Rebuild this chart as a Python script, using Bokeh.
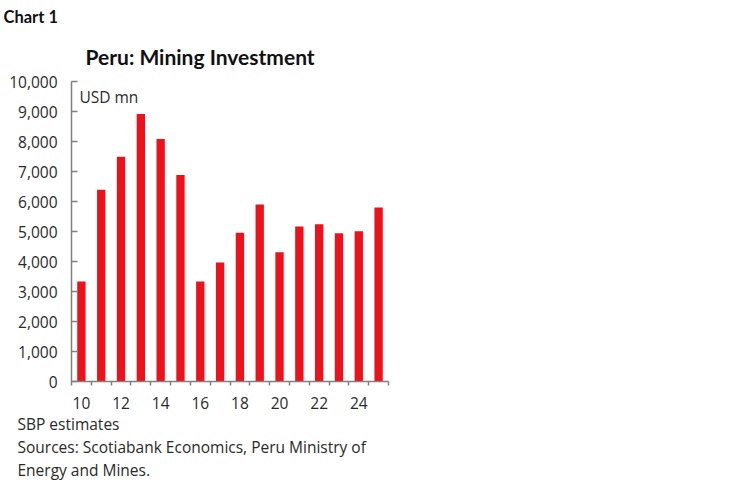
from bokeh.plotting import figure
from bokeh.models import Range1d, FixedTicker, NumeralTickFormatter, CustomJSTickFormatter, Title
from bokeh.embed import file_html
from bokeh.resources import INLINE

# Peru mining investment, USD mn (2025 = SBP estimate)
years = [2010, 2011, 2012, 2013, 2014, 2015, 2016, 2017,
         2018, 2019, 2020, 2021, 2022, 2023, 2024, 2025]
investment = [3330, 6390, 7490, 8920, 8080, 6880, 3330, 3970,
              4960, 5900, 4310, 5170, 5240, 4940, 5010, 5800]
y_ticks = list(range(0, 10001, 1000))
x_label_years = [2010, 2012, 2014, 2016, 2018, 2020, 2022, 2024]
notes = ["SBP estimates",
         "Sources: Scotiabank Economics, Peru Ministry of",
         "Energy and Mines."]

RED = "#EC111A"
AXIS = "#808080"
TEXT = "#2a2a2a"
FONT = "Open Sans"
HEAD_FONT = "Lato"
BODY = "15.5px"

p = figure(width=740, height=481, output_backend="svg", toolbar_location=None,
           x_range=Range1d(years[0] - 0.5, years[-1] + 0.5),
           y_range=Range1d(0, 10000),
           min_border_left=71, min_border_right=352,
           min_border_top=81, min_border_bottom=98)
p.outline_line_color = None
p.grid.grid_line_color = None
p.background_fill_color = "white"

p.vbar(x=years, top=investment, width=0.42, fill_color=RED, line_color=None)

# y axis: ticks point into the plot
p.yaxis.ticker = FixedTicker(ticks=y_ticks)
p.yaxis.formatter = NumeralTickFormatter(format="0,0")
p.yaxis.major_tick_in = 6
p.yaxis.major_tick_out = 0
p.yaxis.minor_tick_line_color = None
p.yaxis.major_label_standoff = 14

# x axis: tick marks between bars, labels every other year
p.xaxis.ticker = FixedTicker(ticks=x_label_years,
                             minor_ticks=[y - 0.5 for y in years] + [years[-1] + 0.5])
p.xaxis.formatter = CustomJSTickFormatter(code="return String(tick % 100);")
p.xaxis.major_tick_in = 0
p.xaxis.major_tick_out = 0
p.xaxis.minor_tick_in = 0
p.xaxis.minor_tick_out = 4
p.xaxis.major_label_standoff = 11

for ax in (p.xaxis, p.yaxis):
    ax.axis_line_color = AXIS
    ax.axis_line_width = 1.5
    ax.major_tick_line_color = AXIS
    ax.minor_tick_line_color = AXIS
    ax.major_tick_line_width = 1.5
    ax.minor_tick_line_width = 1.5
    ax.major_label_text_font = FONT
    ax.major_label_text_font_size = BODY
    ax.major_label_text_color = TEXT


def heading(text, where, offset, size=BODY, style="normal", standoff=0, font=FONT,
            line_height=1.0):
    p.add_layout(Title(text=text, align="left", offset=offset, standoff=standoff,
                       text_font=font, text_font_size=size, text_font_style=style,
                       text_line_height=line_height,
                       text_color="#111111" if style == "bold" else TEXT), where)


# titles above (first added sits closest to the plot)
heading("Peru: Mining Investment", "above", 14, size="21px", style="bold",
        standoff=26, font=HEAD_FONT)
heading("Chart 1", "above", -68, size="16.5px", style="bold", standoff=3, font=HEAD_FONT)

# notes below the x axis, one block of three lines
heading("\n".join(notes), "below", -54, line_height=1.05)

# in-plot unit label
p.text(x=[years[0] - 0.1], y=[9500], text=["USD mn"], text_font_size=BODY,
       text_color=TEXT, text_baseline="middle", text_font={"value": FONT})

open("out.html", "w").write(file_html(p, INLINE))
